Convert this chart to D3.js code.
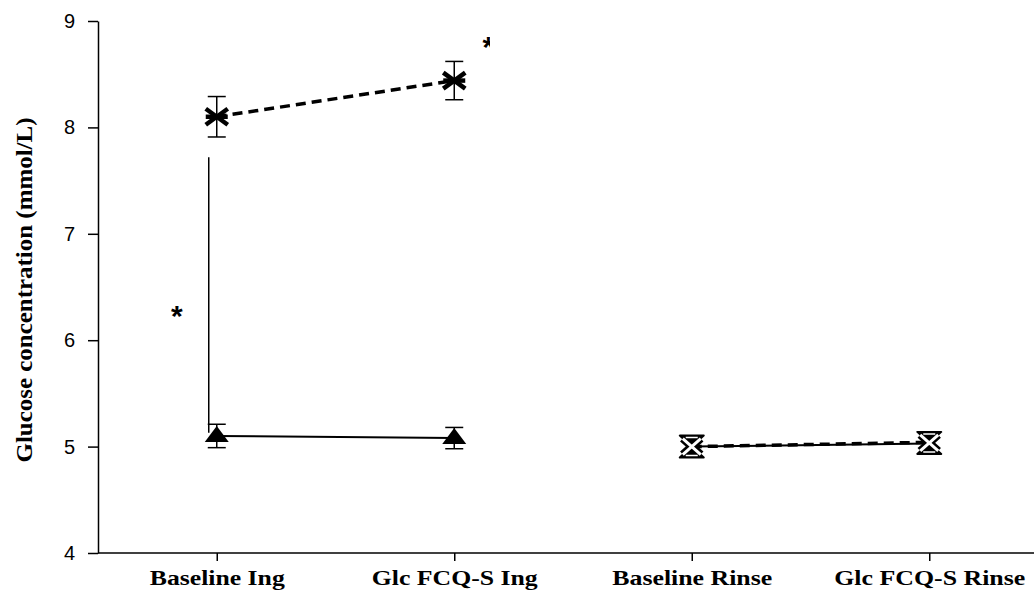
<!DOCTYPE html>
<html lang="en">
<head>
<meta charset="utf-8">
<title>Glucose concentration</title>
<script src="https://d3js.org/d3.v7.min.js"></script>
<style>
body{ margin:0; background:#fff; }
.axis path, .axis line{ stroke:#000; stroke-width:1.5; fill:none; }
</style>
</head>
<body>
<div id="chart"></div>
<script>
// categories and tick labels
const categories = ["Baseline Ing", "Glc FCQ-S Ing", "Baseline Rinse", "Glc FCQ-S Rinse"];
const labelWidths = [135, 166, 160, 191];
const yTicks = [4, 5, 6, 7, 8, 9];

// ingestion pair, asterisk series (dashed)
const ingCats = ["Baseline Ing", "Glc FCQ-S Ing"];
const ingStarMean = [8.10, 8.44];
const ingStarErr  = [0.19, 0.18];
// ingestion pair, triangle series (solid)
const ingTriMean = [5.10, 5.08];
const ingTriErr  = [0.11, 0.10];
// rinse pair, both series overlap
const rinseCats = ["Baseline Rinse", "Glc FCQ-S Rinse"];
const rinseStarMean = [5.00, 5.04];
const rinseTriMean  = [5.00, 5.03];
const rinseErr      = [0.04, 0.06];

// significance marks
const bracketTop = 7.72, bracketBottom = 5.13;
const starMarks = [{x:"Baseline Ing", dx:-40, y:6.27}, {x:"Glc FCQ-S Ing", dx:34, y:8.80}];

const W = 1034, H = 592;
const mLeft = 98, mTop = 21, mBottom = 553;

const svg = d3.select("#chart").append("svg")
  .attr("width", W).attr("height", H);

const x = d3.scalePoint().domain(categories).range([mLeft, 1048]).padding(0.5);
const y = d3.scaleLinear().domain([4, 9]).range([mBottom, mTop]);

// axes
const ya = svg.append("g").attr("class", "axis")
  .attr("transform", "translate(" + mLeft + ",0)")
  .call(d3.axisLeft(y).tickValues(yTicks).tickFormat(d3.format("d"))
    .tickSize(10).tickPadding(13).tickSizeOuter(0));
ya.selectAll("text")
  .style("font", "20px 'Liberation Sans', Arial, sans-serif").style("fill", "#000");

const xa = svg.append("g").attr("class", "axis")
  .attr("transform", "translate(0," + mBottom + ")")
  .call(d3.axisBottom(x).tickSize(8).tickPadding(8).tickSizeOuter(0));
xa.select(".domain").attr("d", "M" + mLeft + ",0H" + W);
xa.selectAll("text")
  .style("font", "bold 22px 'Liberation Serif', 'Times New Roman', serif").style("fill", "#000")
  .attr("textLength", (d, i) => labelWidths[i])
  .attr("lengthAdjust", "spacingAndGlyphs");

svg.append("text")
  .attr("transform", "translate(32,290) rotate(-90)")
  .attr("text-anchor", "middle")
  .attr("textLength", 345).attr("lengthAdjust", "spacingAndGlyphs")
  .style("font", "bold 23px 'Liberation Serif', 'Times New Roman', serif")
  .text("Glucose concentration (mmol/L)");

const line = d3.line().x(d => x(d.c)).y(d => y(d.v));
function pts(cats, vals){ return cats.map((c, i) => ({c:c, v:vals[i]})); }

function errorBars(cats, vals, errs){
  const g = svg.append("g").attr("stroke", "#000").attr("stroke-width", 1.5);
  cats.forEach((c, i) => {
    const cx = x(c), y1 = y(vals[i] + errs[i]), y2 = y(vals[i] - errs[i]);
    g.append("line").attr("x1", cx).attr("x2", cx).attr("y1", y1).attr("y2", y2);
    g.append("line").attr("x1", cx - 9).attr("x2", cx + 9).attr("y1", y1).attr("y2", y1);
    g.append("line").attr("x1", cx - 9).attr("x2", cx + 9).attr("y1", y2).attr("y2", y2);
  });
}

function asterisk(cx, cy, col, w){
  const g = svg.append("g").attr("stroke", col).attr("stroke-width", w);
  g.append("line").attr("x1", cx - 11).attr("y1", cy - 8).attr("x2", cx + 11).attr("y2", cy + 8);
  g.append("line").attr("x1", cx - 11).attr("y1", cy + 8).attr("x2", cx + 11).attr("y2", cy - 8);
  g.append("line").attr("x1", cx - 11).attr("y1", cy).attr("x2", cx + 11).attr("y2", cy);
}
function triangle(cx, cy){
  svg.append("path")
    .attr("transform", "translate(" + cx + "," + (cy - 1) + ")")
    .attr("d", "M0,-9L12,7L-12,7Z").attr("fill", "#000");
}

// bracket line between the ingestion series
svg.append("line")
  .attr("x1", x("Baseline Ing") - 8).attr("x2", x("Baseline Ing") - 8)
  .attr("y1", y(bracketTop)).attr("y2", y(bracketBottom))
  .attr("stroke", "#000").attr("stroke-width", 1.5);

// ingestion triangle series
errorBars(ingCats, ingTriMean, ingTriErr);
svg.append("path").datum(pts(ingCats, ingTriMean))
  .attr("d", line).attr("fill", "none").attr("stroke", "#000").attr("stroke-width", 2);
ingCats.forEach((c, i) => triangle(x(c), y(ingTriMean[i])));

// ingestion asterisk series
errorBars(ingCats, ingStarMean, ingStarErr);
svg.append("path").datum(pts(ingCats, ingStarMean))
  .attr("d", line).attr("fill", "none").attr("stroke", "#000")
  .attr("stroke-width", 3.5).attr("stroke-dasharray", "10,6");
ingCats.forEach((c, i) => asterisk(x(c), y(ingStarMean[i]), "#000", 4.5));

// rinse series
errorBars(rinseCats, rinseTriMean, rinseErr);
svg.append("path").datum(pts(rinseCats, rinseTriMean))
  .attr("d", line).attr("fill", "none").attr("stroke", "#000").attr("stroke-width", 2);
svg.append("path").datum(pts(rinseCats, rinseStarMean))
  .attr("d", line).attr("fill", "none").attr("stroke", "#000")
  .attr("stroke-width", 3.5).attr("stroke-dasharray", "10,6");
rinseCats.forEach((c, i) => {
  const cx = x(c), cy = y((rinseTriMean[i] + rinseStarMean[i]) / 2);
  // hourglass outline: two black triangles tip to tip
  svg.append("path")
    .attr("transform", "translate(" + cx + "," + cy + ")")
    .attr("d", "M-12,-11L12,-11L0,0Z M-12,11L12,11L0,0Z")
    .attr("fill", "#000").attr("stroke", "#000").attr("stroke-width", 2).attr("stroke-linejoin", "round");
  const g = svg.append("g");
  [["#000", 8], ["#fff", 3]].forEach(s => {
    g.append("line").attr("x1", cx - 9).attr("y1", cy - 8).attr("x2", cx + 9).attr("y2", cy + 8)
      .attr("stroke", s[0]).attr("stroke-width", s[1]);
    g.append("line").attr("x1", cx - 9).attr("y1", cy + 8).attr("x2", cx + 9).attr("y2", cy - 8)
      .attr("stroke", s[0]).attr("stroke-width", s[1]);
  });
  svg.append("path")
    .attr("transform", "translate(" + cx + "," + cy + ")")
    .attr("d", "M-6,-9L6,-9 M-6,9L6,9")
    .attr("stroke", "#fff").attr("stroke-width", 1.5);
});

// significance stars (second one is cut off in the original)
svg.append("clipPath").attr("id", "starclip")
  .append("rect").attr("x", 0).attr("y", 0).attr("width", 490).attr("height", H);
starMarks.forEach((s, i) => {
  svg.append("text")
    .attr("x", x(s.x) + s.dx).attr("y", y(s.y) + 15)
    .attr("text-anchor", "middle")
    .attr("clip-path", i === 1 ? "url(#starclip)" : null)
    .style("font", "bold 30px 'Liberation Sans', Arial, sans-serif")
    .text("*");
});
</script>
</body>
</html>
